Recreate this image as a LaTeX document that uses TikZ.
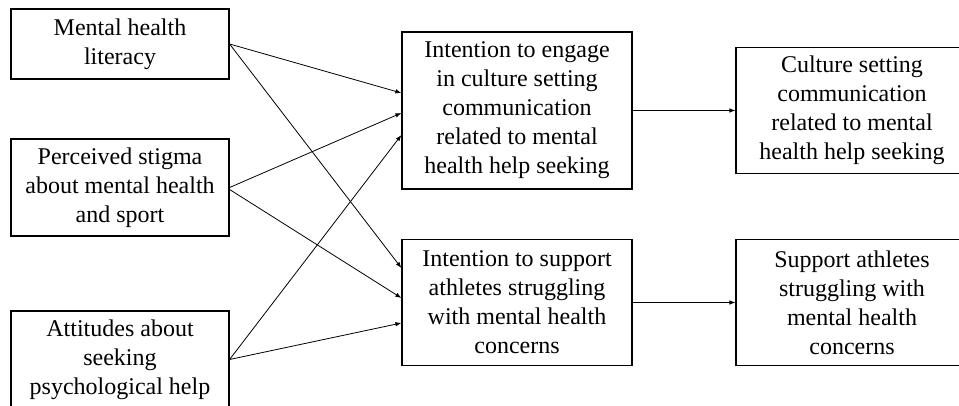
\documentclass[tikz,border=0pt]{standalone}
\usepackage{fontspec}
\setmainfont{Liberation Serif}
\usetikzlibrary{arrows.meta}

\begin{document}
\begin{tikzpicture}[x=1pt,y=-1pt,
	box/.style={draw, line width=1.2pt, align=center, inner sep=0pt, font=\fontsize{24}{29}\selectfont},
	link/.style={-{Latex[length=6pt,width=4.5pt]}, line width=0.8pt}]
	\useasboundingbox (0,0) rectangle (959,406);
	\clip (0,0) rectangle (959,406);
	\node[box, minimum width=218pt, minimum height=70pt] (lit) at (120,44) {Mental health\\literacy};
	\node[box, minimum width=218pt, minimum height=97pt] (stig) at (120,187.5) {Perceived stigma\\about mental health\\and sport};
	\node[box, minimum width=218pt, minimum height=97pt] (att) at (120,359.5) {Attitudes about\\seeking\\psychological help};
	\node[box, minimum width=230pt, minimum height=157pt] (eng) at (517,110.5) {Intention to engage\\in culture setting\\communication\\related to mental\\health help seeking};
	\node[box, minimum width=230pt, minimum height=126pt] (sup) at (517,302.5) {Intention to support\\athletes struggling\\with mental health\\concerns};
	\node[box, minimum width=232pt, minimum height=126pt] (cul) at (852,110.5) {Culture setting\\communication\\related to mental\\health help seeking};
	\node[box, minimum width=232pt, minimum height=126pt] (ath) at (852,302.5) {Support athletes\\struggling with\\mental health\\concerns};
	\draw[link] (lit.east) -- ([yshift=17.5pt]eng.west);
	\draw[link] (lit.east) -- ([yshift=34.5pt]sup.west);
	\draw[link] (stig.east) -- ([yshift=-2.5pt]eng.west);
	\draw[link] ([yshift=-2pt]stig.east) -- ([yshift=4.5pt]sup.west);
	\draw[link] (att.east) -- ([yshift=-24.5pt]eng.west);
	\draw[link] (att.east) -- ([yshift=-20.5pt]sup.west);
	\draw[link] (eng.east) -- (cul.west);
	\draw[link] (sup.east) -- (ath.west);
\end{tikzpicture}
\end{document}
